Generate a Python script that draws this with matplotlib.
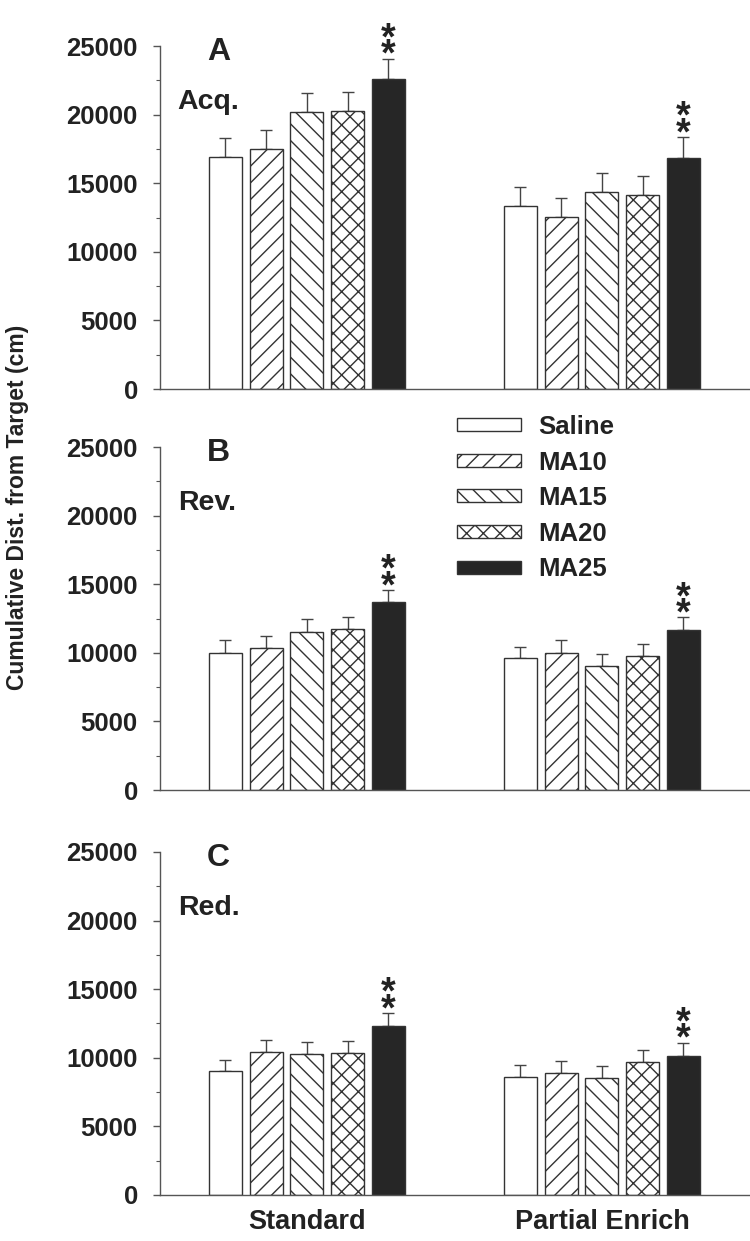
import matplotlib
matplotlib.use("Agg")
import matplotlib.pyplot as plt
from matplotlib.ticker import MultipleLocator

plt.rcParams['font.family'] = ['Liberation Sans', 'DejaVu Sans']
plt.rcParams['font.weight'] = 'bold'
plt.rcParams['hatch.linewidth'] = 1.0

groups = ['Standard', 'Partial Enrich']
treatments = ['Saline', 'MA10', 'MA15', 'MA20', 'MA25']
hatches = ['', '//', '\\\\', 'xx', '']
fills = ['white', 'white', 'white', 'white', '#262626']

# mean, SEM (upper only) per panel, [standard, partial enrich]
acq_std = [16900, 17500, 20200, 20250, 22600]
acq_std_err = [1400, 1380, 1360, 1390, 1480]
acq_pe = [13350, 12550, 14350, 14150, 16850]
acq_pe_err = [1350, 1350, 1430, 1380, 1530]

rev_std = [10000, 10330, 11550, 11720, 13690]
rev_std_err = [900, 880, 880, 880, 900]
rev_pe = [9600, 10020, 9050, 9800, 11680]
rev_pe_err = [860, 880, 900, 850, 900]

red_std = [9020, 10450, 10300, 10370, 12340]
red_std_err = [850, 870, 880, 860, 900]
red_pe = [8630, 8875, 8535, 9675, 10160]
red_pe_err = [870, 875, 900, 880, 950]

panels = [
    ('A', 'Acq.', [acq_std, acq_pe], [acq_std_err, acq_pe_err]),
    ('B', 'Rev.', [rev_std, rev_pe], [rev_std_err, rev_pe_err]),
    ('C', 'Red.', [red_std, red_pe], [red_std_err, red_pe_err]),
]
# MA25 is significant (**) in every group
signif = ['MA25']

fig = plt.figure(figsize=(7.5, 12.41), dpi=100)
bottoms = [0.6865, 0.3634, 0.0371]
pitch = 0.138
width = 0.112
edge = '#333333'
txt = '#222222'

axes = []
for p, (letter, sub, means, errs) in enumerate(panels):
    ax = fig.add_axes([0.2133, bottoms[p], 0.7867, 0.2764])
    axes.append(ax)
    for g in range(len(groups)):
        for i, t in enumerate(treatments):
            x = g + (i - 2) * pitch
            ax.bar(x, means[g][i], width, color=fills[i], edgecolor=edge,
                   hatch=hatches[i], linewidth=1.0, label=t if g == 0 else None,
                   zorder=2)
            ax.errorbar(x, means[g][i], yerr=[[0], [errs[g][i]]], fmt='none',
                        ecolor='#444444', elinewidth=1.0, capsize=4,
                        capthick=1.0, zorder=1)
            if t in signif:
                top = means[g][i] + errs[g][i]
                ax.annotate('*\n*', xy=(x, top), xytext=(0, -11),
                            textcoords='offset points', ha='center',
                            va='bottom', fontsize=27, linespacing=0.31,
                            color=txt, annotation_clip=False)
    ax.set_xlim(-0.498, 1.502)
    ax.set_ylim(0, 25000)
    ax.yaxis.set_major_locator(MultipleLocator(5000))
    ax.yaxis.set_minor_locator(MultipleLocator(2500))
    ax.spines['top'].set_visible(False)
    ax.spines['right'].set_visible(False)
    for s in ('left', 'bottom'):
        ax.spines[s].set_color('#555555')
        ax.spines[s].set_linewidth(1.0)
    ax.tick_params(axis='y', which='major', length=5, width=1.0,
                   color='#555555', pad=11, labelsize=18.5, labelcolor=txt)
    ax.tick_params(axis='y', which='minor', length=3, width=0.8,
                   color='#555555')
    ax.set_xticks(range(len(groups)))
    if p == 2:
        ax.set_xticklabels(groups)
        ax.tick_params(axis='x', length=0, pad=10, labelsize=19.5,
                       labelcolor=txt)
    else:
        ax.set_xticklabels([])
        ax.tick_params(axis='x', length=0)
    ax.text(0.08, 0.96, letter, transform=ax.transAxes, fontsize=23,
            va='baseline', ha='left', color=txt)
    ax.text(0.03, 0.815, sub, transform=ax.transAxes, fontsize=20.5,
            va='baseline', ha='left', color=txt)

axes[1].legend(loc='upper left', bbox_to_anchor=(457 / 750, 1 - 415 / 1241),
               bbox_transform=fig.transFigure, frameon=False, fontsize=18.5,
               handlelength=2.5, handleheight=0.4, handletextpad=0.65,
               labelspacing=0.45, borderpad=0, borderaxespad=0,
               labelcolor=txt)

fig.text(0.024, 0.591, 'Cumulative Dist. from Target (cm)', rotation=90,
         va='center', ha='center', fontsize=16.5, color=txt)

fig.savefig('out.png', dpi=100)
